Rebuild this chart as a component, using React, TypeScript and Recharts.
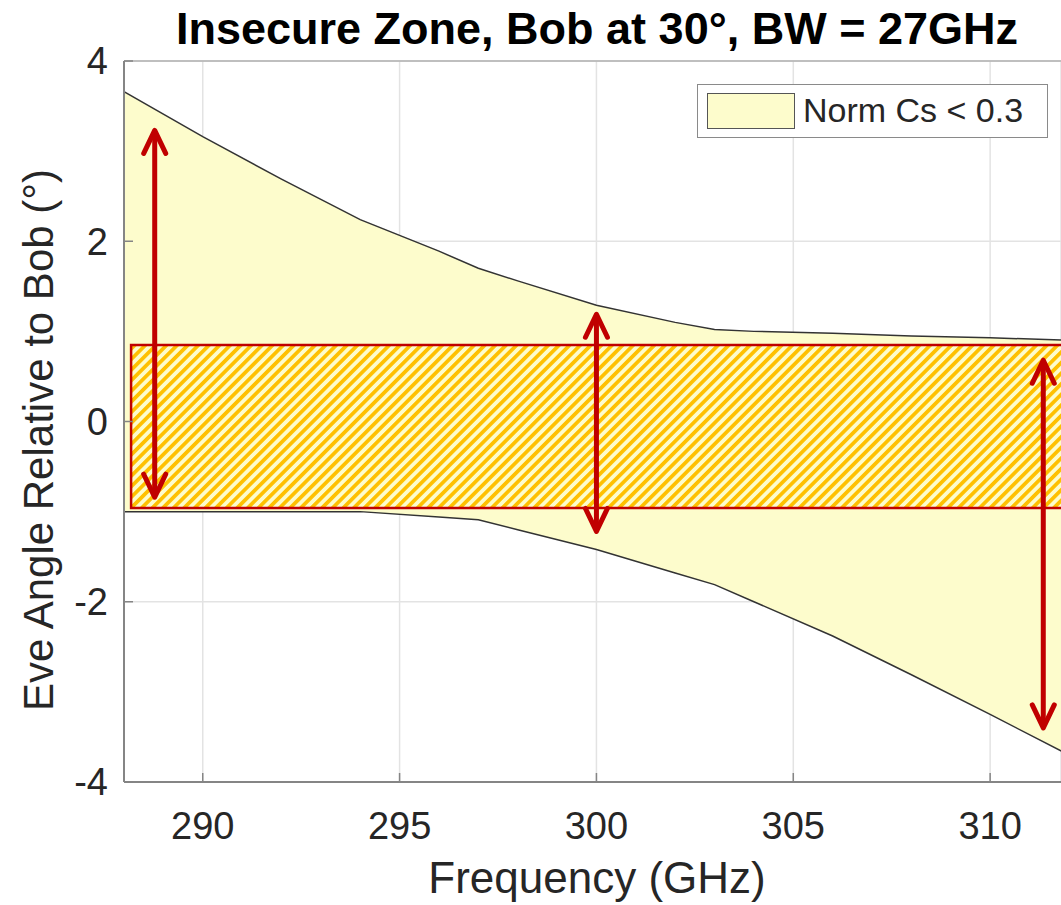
import React from "react";
import {
  ComposedChart,
  Area,
  XAxis,
  YAxis,
  CartesianGrid,
  ReferenceArea,
  ReferenceLine,
} from "recharts";

// Insecure-zone boundaries
const freqs = [288, 290, 292, 294, 296, 297, 298, 300, 302, 303, 304, 306, 308, 310, 312];
const upperAngle = [3.66, 3.16, 2.69, 2.24, 1.89, 1.7, 1.56, 1.29, 1.1, 1.02, 1.0, 0.98, 0.95, 0.93, 0.9];
const lowerAngle = [-1.0, -1.0, -1.0, -1.0, -1.06, -1.09, -1.2, -1.42, -1.68, -1.81, -2.0, -2.38, -2.81, -3.25, -3.7];

// Bob's beam band (hatched box)
const bandFreq = [288.18, 312];
const bandAngle = [-0.96, 0.85];

// red double arrows
const arrowFreqs = [288.78, 300, 311.35];
const arrowTops = [3.23, 1.19, 0.68];
const arrowBottoms = [-0.84, -1.22, -3.4];

const xTicks = [290, 295, 300, 305, 310];
const yTicks = [-4, -2, 0, 2, 4];
const zoneLabel = "Norm Cs < 0.3";

const FONT = '"Liberation Sans", Arial, Helvetica, sans-serif';
const TEXT = "#262626";
const AXIS = "#858585";
const RED = "#c00000";
const FILL = "#fdfccc";

const X_MARGIN = 30;
const Y_MARGIN = 16;

const data = freqs.map((f, i) => ({ freq: f, zone: [lowerAngle[i], upperAngle[i]] }));

const XTick = (props: any) => {
  const { x, y, payload } = props;
  const axisY = y - X_MARGIN;
  return (
    <g>
      <line x1={x} x2={x} y1={axisY} y2={axisY - 9} stroke={AXIS} strokeWidth={1.5} />
      <text x={x} y={y} dy="0.71em" textAnchor="middle" fontSize={38} fontFamily={FONT} fill={TEXT}>
        {payload.value}
      </text>
    </g>
  );
};

const YTick = (props: any) => {
  const { x, y, payload } = props;
  const axisX = x + Y_MARGIN;
  return (
    <g>
      <line x1={axisX} x2={axisX + 9} y1={y} y2={y} stroke={AXIS} strokeWidth={1.5} />
      <text x={x} y={y} dy="0.355em" textAnchor="end" fontSize={38} fontFamily={FONT} fill={TEXT}>
        {payload.value}
      </text>
    </g>
  );
};

const DoubleArrow = (props: any) => {
  const { x1, y1, y2 } = props;
  const top = Math.min(y1, y2);
  const bottom = Math.max(y1, y2);
  const common = {
    stroke: RED,
    strokeWidth: 5,
    strokeLinecap: "round" as const,
    strokeLinejoin: "round" as const,
    fill: "none",
  };
  return (
    <g>
      <line x1={x1} x2={x1} y1={top + 2} y2={bottom - 2} {...common} />
      <polyline points={`${x1 - 11},${top + 23} ${x1},${top} ${x1 + 11},${top + 23}`} {...common} />
      <polyline points={`${x1 - 11},${bottom - 23} ${x1},${bottom} ${x1 + 11},${bottom - 23}`} {...common} />
    </g>
  );
};

function ZoneLegend() {
  return (
    <div
      style={{
        position: "absolute",
        left: 697,
        top: 84,
        width: 349,
        height: 52,
        border: "1.5px solid #8a8a8a",
        background: "#fff",
        fontFamily: FONT,
      }}
    >
      <div
        style={{
          position: "absolute",
          left: 9,
          top: 8,
          width: 86,
          height: 34,
          background: FILL,
          border: "1.5px solid #555",
        }}
      />
      <span
        style={{
          position: "absolute",
          left: 105,
          top: 5,
          fontSize: 34,
          lineHeight: "40px",
          color: TEXT,
          whiteSpace: "nowrap",
        }}
      >
        {zoneLabel}
      </span>
    </div>
  );
}

export default function App() {
  return (
    <div style={{ position: "absolute", left: 0, top: 0, width: 1061, height: 905, background: "#fff" }}>
      <ComposedChart
        width={1061}
        height={905}
        data={data}
        margin={{ top: 61, right: 0, bottom: 0, left: 0 }}
      >
        <defs>
          <pattern
            id="bobHatch"
            patternUnits="userSpaceOnUse"
            width={7.5}
            height={7.5}
            patternTransform="rotate(45)"
          >
            <rect x={0} y={0} width={7.5} height={7.5} fill={FILL} />
            <rect x={0} y={0} width={3.7} height={7.5} fill="#ffc000" />
          </pattern>
        </defs>
        <CartesianGrid stroke="#e3e3e3" strokeWidth={1.5} />
        <XAxis
          type="number"
          dataKey="freq"
          domain={[288, 311.8]}
          allowDataOverflow
          ticks={xTicks}
          height={123}
          tickSize={0}
          tickMargin={X_MARGIN}
          tickLine={false}
          axisLine={{ stroke: AXIS, strokeWidth: 2 }}
          tick={<XTick />}
        />
        <YAxis
          type="number"
          domain={[-4, 4]}
          ticks={yTicks}
          width={124}
          tickSize={0}
          tickMargin={Y_MARGIN}
          tickLine={false}
          axisLine={{ stroke: AXIS, strokeWidth: 2 }}
          tick={<YTick />}
        />
        <Area
          type="linear"
          dataKey="zone"
          name={zoneLabel}
          fill={FILL}
          fillOpacity={1}
          stroke="#333"
          strokeWidth={1.5}
          dot={false}
          activeDot={false}
          isAnimationActive={false}
        />
        <ReferenceArea
          x1={bandFreq[0]}
          x2={bandFreq[1]}
          y1={bandAngle[0]}
          y2={bandAngle[1]}
          fill="url(#bobHatch)"
          fillOpacity={1}
          stroke={RED}
          strokeWidth={2.5}
          ifOverflow="hidden"
        />
        <ReferenceLine y={4} stroke="#b0b0b0" strokeWidth={1.5} ifOverflow="visible" />
        {arrowFreqs.map((f, i) => (
          <ReferenceLine
            key={f}
            segment={[
              { x: f, y: arrowBottoms[i] },
              { x: f, y: arrowTops[i] },
            ]}
            ifOverflow="visible"
            shape={DoubleArrow}
          />
        ))}
      </ComposedChart>
      <ZoneLegend />
      <svg
        width={1061}
        height={905}
        style={{ position: "absolute", left: 0, top: 0, pointerEvents: "none" }}
      >
        <text x={597} y={44} textAnchor="middle" fontSize={45} fontWeight="bold" fontFamily={FONT} fill="#000">
          Insecure Zone, Bob at 30°, BW = 27GHz
        </text>
        <text x={597} y={893} textAnchor="middle" fontSize={44} fontFamily={FONT} fill={TEXT}>
          Frequency (GHz)
        </text>
        <text
          transform="translate(53,440) rotate(-90)"
          textAnchor="middle"
          fontSize={42}
          fontFamily={FONT}
          fill={TEXT}
        >
          Eve Angle Relative to Bob (°)
        </text>
      </svg>
    </div>
  );
}
